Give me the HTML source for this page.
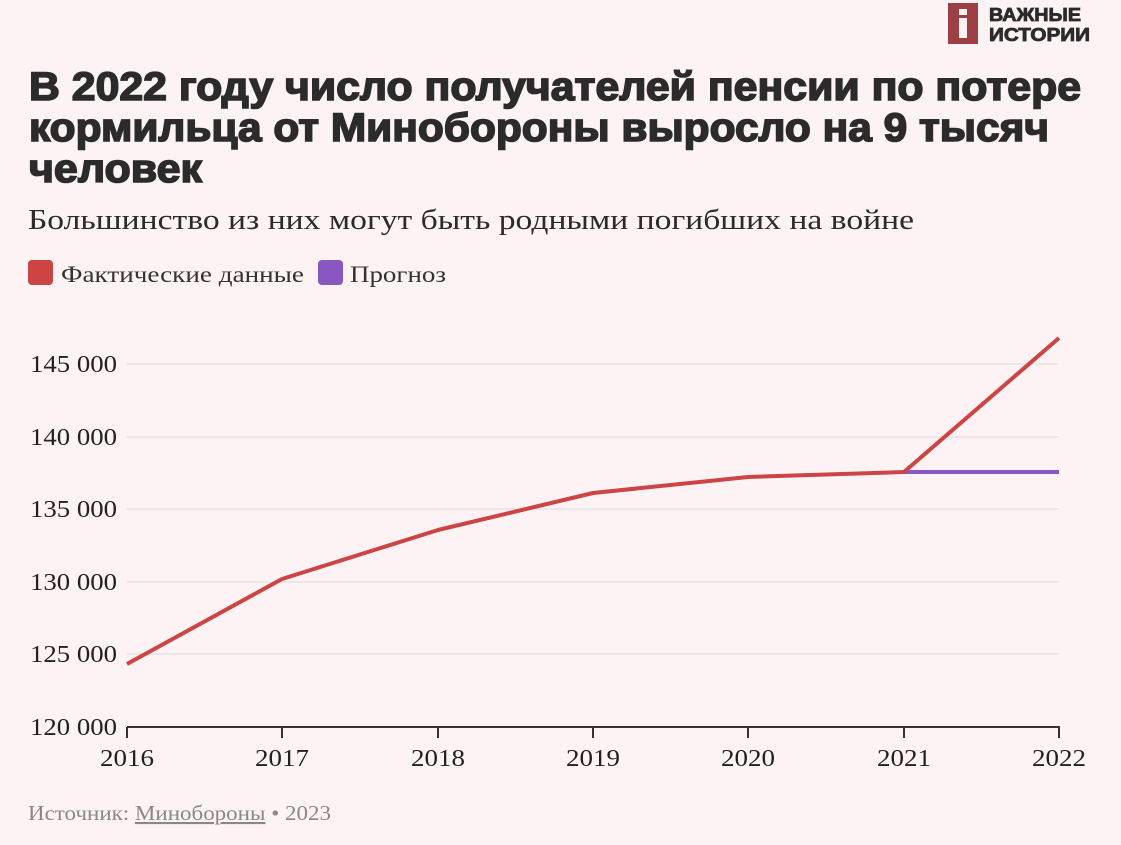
<!DOCTYPE html>
<html><head><meta charset="utf-8"><style>
html,body{margin:0;padding:0;background:#fdf3f4;}
svg{display:block;}
</style></head><body>
<svg width="1121" height="845" viewBox="0 0 1121 845" xmlns="http://www.w3.org/2000/svg">
<rect width="1121" height="845" fill="#fdf3f4"/>
<!-- logo -->
<rect x="948" y="3" width="30" height="41" fill="#9e3f45"/>
<rect x="959" y="9" width="8" height="6" fill="#fdf3f4"/>
<rect x="959" y="18" width="8" height="20" fill="#fdf3f4"/>
<g font-family="Liberation Sans, sans-serif" font-weight="bold" font-size="18" fill="#2b2b2b" stroke="#2b2b2b" stroke-width="0.8">
<text x="989" y="21" textLength="92" lengthAdjust="spacingAndGlyphs">ВАЖНЫЕ</text>
<text x="989" y="41" textLength="101" lengthAdjust="spacingAndGlyphs">ИСТОРИИ</text>
</g>
<!-- title -->
<g font-family="Liberation Sans, sans-serif" font-weight="bold" font-size="40" fill="#2b2b2b" stroke="#2b2b2b" stroke-width="1.6">
<text x="29" y="100" textLength="1052" lengthAdjust="spacingAndGlyphs">В 2022 году число получателей пенсии по потере</text>
<text x="29" y="141" textLength="1020" lengthAdjust="spacingAndGlyphs">кормильца от Минобороны выросло на 9 тысяч</text>
<text x="29" y="182" textLength="173" lengthAdjust="spacingAndGlyphs">человек</text>
</g>
<text x="28" y="229" font-family="Liberation Serif, serif" font-size="29" fill="#2b2b2b" textLength="886" lengthAdjust="spacingAndGlyphs">Большинство из них могут быть родными погибших на войне</text>
<!-- legend -->
<rect x="28" y="260" width="25" height="25" rx="4" fill="#cc4444"/>
<text x="61" y="282" font-family="Liberation Serif, serif" font-size="23" fill="#333" textLength="243" lengthAdjust="spacingAndGlyphs">Фактические данные</text>
<rect x="318" y="260" width="25" height="25" rx="4" fill="#8a57c2"/>
<text x="350" y="282" font-family="Liberation Serif, serif" font-size="23" fill="#333" textLength="96" lengthAdjust="spacingAndGlyphs">Прогноз</text>
<!-- grid -->
<g stroke="#dcdcdc" stroke-width="1">
<line x1="127" x2="1059" y1="364" y2="364"/>
<line x1="127" x2="1059" y1="437" y2="437"/>
<line x1="127" x2="1059" y1="509" y2="509"/>
<line x1="127" x2="1059" y1="582" y2="582"/>
<line x1="127" x2="1059" y1="654" y2="654"/>
</g>
<g font-family="Liberation Serif, serif" font-size="24" fill="#222">
<text x="30" y="372" textLength="87" lengthAdjust="spacingAndGlyphs">145 000</text>
<text x="30" y="445" textLength="87" lengthAdjust="spacingAndGlyphs">140 000</text>
<text x="30" y="517" textLength="87" lengthAdjust="spacingAndGlyphs">135 000</text>
<text x="30" y="590" textLength="87" lengthAdjust="spacingAndGlyphs">130 000</text>
<text x="30" y="662" textLength="87" lengthAdjust="spacingAndGlyphs">125 000</text>
<text x="30" y="735" textLength="87" lengthAdjust="spacingAndGlyphs">120 000</text>
</g>
<!-- x axis -->
<g stroke="#333" stroke-width="2">
<line x1="127" x2="1060" y1="727" y2="727"/>
<line x1="127" x2="127" y1="727" y2="738"/>
<line x1="282" x2="282" y1="727" y2="738"/>
<line x1="438" x2="438" y1="727" y2="738"/>
<line x1="593" x2="593" y1="727" y2="738"/>
<line x1="748" x2="748" y1="727" y2="738"/>
<line x1="904" x2="904" y1="727" y2="738"/>
<line x1="1059" x2="1059" y1="727" y2="738"/>
</g>
<g font-family="Liberation Serif, serif" font-size="24" fill="#222">
<text x="100" y="766" textLength="54" lengthAdjust="spacingAndGlyphs">2016</text>
<text x="255" y="766" textLength="54" lengthAdjust="spacingAndGlyphs">2017</text>
<text x="411" y="766" textLength="54" lengthAdjust="spacingAndGlyphs">2018</text>
<text x="566" y="766" textLength="54" lengthAdjust="spacingAndGlyphs">2019</text>
<text x="721" y="766" textLength="54" lengthAdjust="spacingAndGlyphs">2020</text>
<text x="877" y="766" textLength="54" lengthAdjust="spacingAndGlyphs">2021</text>
<text x="1032" y="766" textLength="54" lengthAdjust="spacingAndGlyphs">2022</text>
</g>
<!-- series -->
<polyline points="904,472 1059,472" fill="none" stroke="#8a57c2" stroke-width="4"/>
<polyline points="127,664 282,579 438,530 593,493 748,477 904,472 1059,338" fill="none" stroke="#cc4444" stroke-width="4" stroke-linejoin="round"/>
<!-- source -->
<text x="28" y="820" font-family="Liberation Serif, serif" font-size="21" fill="#888" textLength="303" lengthAdjust="spacingAndGlyphs">Источник: <tspan text-decoration="underline">Минобороны</tspan> • 2023</text>
</svg>
</body></html>
